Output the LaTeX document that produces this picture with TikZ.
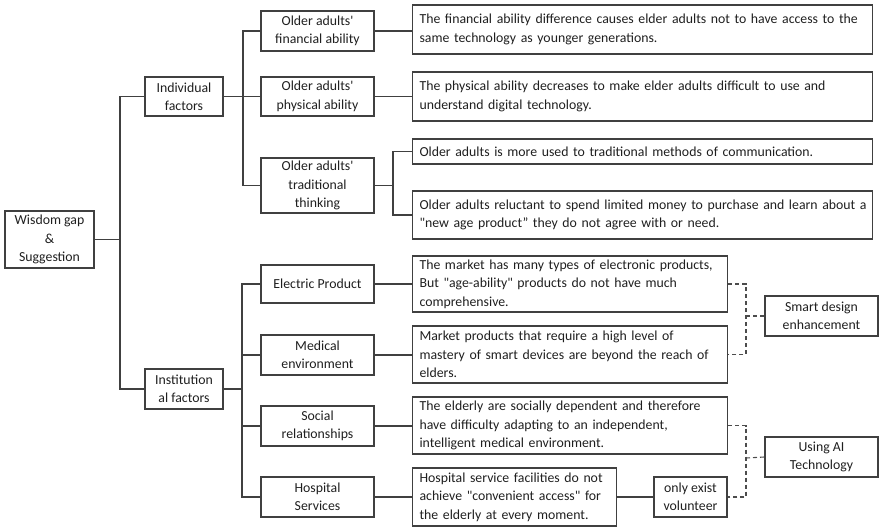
\documentclass[tikz,border=0pt]{standalone}
\usepackage{fontspec}
\newfontfamily\cf{Carlito}
\begin{document}
\begin{tikzpicture}[x=1pt,y=-1pt,
  every node/.style={font=\cf\fontsize{13.8}{18.4}\selectfont, text=black!88},
  cbox/.style={draw=black!75, line width=1.1pt, align=center, inner sep=0pt, minimum width=113pt},
  desc/.style={draw=black!75, line width=1.1pt, align=left, inner xsep=7pt, inner ysep=0pt, anchor=west},
  link/.style={draw=black!75, line width=1.1pt},
  dlink/.style={draw=black!70, line width=1.1pt, dash pattern=on 4pt off 3pt}]
\useasboundingbox (0,0) rectangle (880,527);
% level 0
\node[cbox, minimum width=89pt, minimum height=57pt] (root) at (49.5,239.5) {Wisdom gap\\\&\\Suggestion};
% level 1
\node[cbox, minimum width=78pt, minimum height=39pt] (ind) at (184,96.5) {Individual\\factors};
\node[cbox, minimum width=78pt, minimum height=40pt] (inst) at (184,389) {Institution\\al factors};
% level 2
\node[cbox, minimum height=40pt] (fin) at (317.5,31) {Older adults'\\financial ability};
\node[cbox, minimum height=39pt] (phy) at (317.5,96.5) {Older adults'\\physical ability};
\node[cbox, minimum height=55pt] (trad) at (317.5,185.5) {Older adults'\\traditional\\thinking};
\node[cbox, minimum height=38pt] (elec) at (317.5,284) {Electric Product};
\node[cbox, minimum height=40pt] (med) at (317.5,355) {Medical\\environment};
\node[cbox, minimum height=40pt] (soc) at (317.5,426) {Social\\relationships};
\node[cbox, minimum height=40pt] (hosp) at (317.5,497) {Hospital\\Services};
% descriptions
\node[desc, text width=446pt, minimum height=49pt] (d1) at (412,29.5) {\mbox{The financial ability difference causes elder adults not to have access to the}\\same technology as younger generations.};
\node[desc, text width=446pt, minimum height=49pt] (d2) at (412,96.5) {The physical ability decreases to make elder adults difficult to use and\\understand digital technology.};
\node[desc, text width=446pt, minimum height=25pt] (d3a) at (412,151.5) {Older adults is more used to traditional methods of communication.};
\node[desc, text width=446pt, minimum height=48pt] (d3b) at (412,215) {\mbox{Older adults reluctant to spend limited money to purchase and learn about a}\\"new age product” they do not agree with or need.};
\node[desc, text width=301pt, minimum height=56pt] (d4) at (412,284) {\mbox{The market has many types of electronic products,}\\But "age-ability" products do not have much\\comprehensive.};
\node[desc, text width=301pt, minimum height=57pt] (d5) at (412,354.5) {Market products that require a high level of\\\mbox{mastery of smart devices are beyond the reach of}\\elders.};
\node[desc, text width=301pt, minimum height=57pt] (d6) at (412,425.5) {The elderly are socially dependent and therefore\\have difficulty adapting to an independent,\\intelligent medical environment.};
\node[desc, text width=190pt, minimum height=58pt] (d7) at (412,497) {Hospital service facilities do not\\achieve "convenient access" for\\the elderly at every moment.};
\node[cbox, minimum width=73pt, minimum height=40pt] (vol) at (690.5,497) {only exist\\volunteer};
\node[cbox, minimum height=40pt] (smart) at (821.5,316) {Smart design\\enhancement};
\node[cbox, minimum height=40pt] (ai) at (821.5,457) {Using AI\\Technology};
% junctions
\coordinate (j0) at (120,239.5);
\coordinate (j1) at (243,96.5);
\coordinate (j2) at (242,389);
\coordinate (j3) at (393,185.5);
\coordinate (k1) at (746,316);
\coordinate (k2) at (746,458);
% tree connectors
\draw[link] (root.east) -- (j0);
\draw[link] (j0) |- (ind.west);
\draw[link] (j0) |- (inst.west);
\draw[link] (ind.east) -- (phy.west);
\draw[link] (j1) |- (fin.west);
\draw[link] (j1) |- (trad.west);
\draw[link] (fin.east) -- (d1.west |- fin.east);
\draw[link] (phy.east) -- (d2.west |- phy.east);
\draw[link] (trad.east) -- (j3);
\draw[link] (j3) |- (d3a.west);
\draw[link] (j3) |- (d3b.west);
\draw[link] (inst.east) -- (j2);
\draw[link] (j2) |- (elec.west);
\draw[link] (j2) |- (med.west);
\draw[link] (j2) |- (soc.west);
\draw[link] (j2) |- (hosp.west);
\draw[link] (elec.east) -- (d4.west |- elec.east);
\draw[link] (med.east) -- (d5.west |- med.east);
\draw[link] (soc.east) -- (d6.west |- soc.east);
\draw[link] (hosp.east) -- (d7.west |- hosp.east);
\draw[link] (d7.east) -- (vol.west);
% dashed
\draw[dlink] (d4.east) -| (k1) |- (d5.east);
\draw[dlink] (k1) -- (smart.west);
\draw[dlink] (d6.east) -| (k2) |- (vol.east);
\draw[dlink] (k2) -- (ai.west);
\end{tikzpicture}
\end{document}
